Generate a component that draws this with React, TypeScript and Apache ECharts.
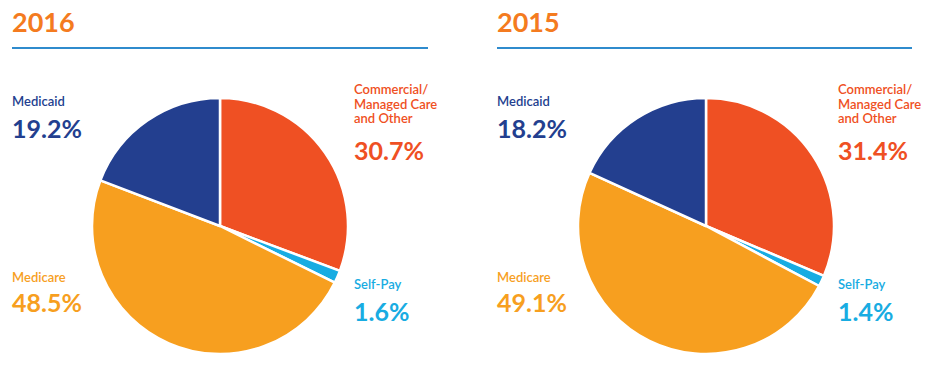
import React, { useEffect, useRef } from "react";
import * as echarts from "echarts";

const years = ["2016", "2015"];
const categories = ["Commercial/\nManaged Care\nand Other", "Self-Pay", "Medicare", "Medicaid"];
const shortNames = ["Commercial", "Self-Pay", "Medicare", "Medicaid"];
const values2016 = [30.7, 1.6, 48.5, 19.2];
const values2015 = [31.4, 1.4, 49.1, 18.2];
const colors = ["#ef5023", "#18ace2", "#f79f1f", "#233f8f"];

const FONT = "Lato, 'Open Sans', sans-serif";

export default function App() {
  const ref = useRef<HTMLDivElement>(null);
  useEffect(() => {
    if (!ref.current) return;
    const chart = echarts.init(ref.current, undefined, { renderer: "svg" });
    const panels = [
      { year: years[0], values: values2016, x0: 12, cx: 220, rx: 354, lineEnd: 428 },
      { year: years[1], values: values2015, x0: 497, cx: 706, rx: 838, lineEnd: 912 },
    ];
    const graphics: any[] = [];
    const series: any[] = [];
    panels.forEach((p) => {
      graphics.push({
        type: "text", left: p.x0, top: 8,
        style: { text: p.year, fill: "#f47b20", font: `bold 27px ${FONT}` },
      });
      graphics.push({
        type: "rect", shape: { x: p.x0, y: 47, width: p.lineEnd - p.x0, height: 2 },
        style: { fill: "#2f8bcd" },
      });
      const lbl = (idx: number, x: number, y: number, yv: number) => {
        graphics.push({
          type: "text", x, y,
          style: { text: categories[idx], fill: colors[idx], font: `600 13px ${FONT}`, lineHeight: 14.5 },
        });
        graphics.push({
          type: "text", x, y: yv,
          style: { text: p.values[idx].toFixed(1) + "%", fill: colors[idx], font: `bold 25px ${FONT}` },
        });
      };
      lbl(3, p.x0, 94, 115);
      lbl(0, p.rx, 82, 137);
      lbl(2, p.x0, 270, 289);
      lbl(1, p.rx, 277, 298);
      series.push({
        type: "pie",
        center: [p.cx, 226],
        radius: [0, 128],
        startAngle: 90,
        clockwise: true,
        label: { show: false },
        labelLine: { show: false },
        emphasis: { disabled: true },
        itemStyle: { borderColor: "#ffffff", borderWidth: 2.5 },
        data: p.values.map((v, i) => ({ name: shortNames[i], value: v, itemStyle: { color: colors[i] } })),
      });
    });
    chart.setOption({
      animation: false,
      backgroundColor: "#ffffff",
      series,
      graphic: graphics,
    });
    return () => chart.dispose();
  }, []);
  return <div ref={ref} style={{ position: "fixed", left: 0, top: 0, width: 940, height: 388 }} />;
}
